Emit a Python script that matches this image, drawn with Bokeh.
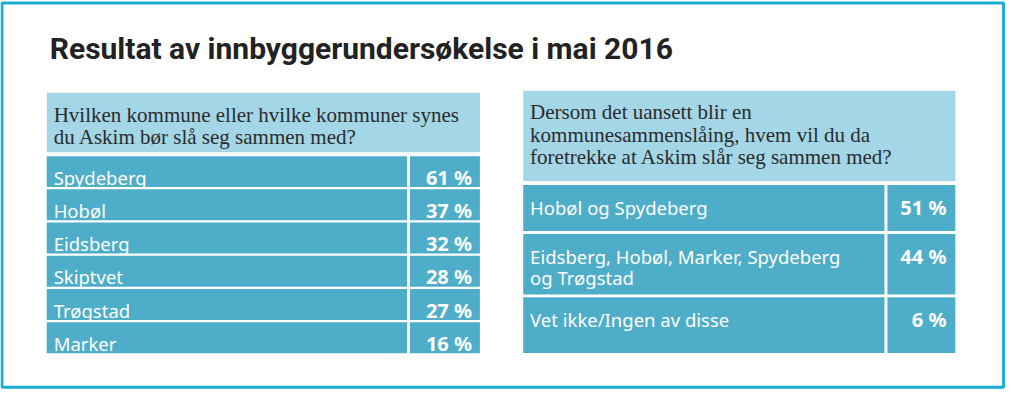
from bokeh.plotting import figure
from bokeh.models import Range1d, ColumnDataSource
from bokeh.core.properties import value
from bokeh.embed import file_html
from bokeh.resources import INLINE

# ---- data ----
title = "Resultat av innbyggerundersøkelse i mai 2016"
left_question = ["Hvilken kommune eller hvilke kommuner synes",
                 "du Askim bør slå seg sammen med?"]
left_labels = ["Spydeberg", "Hobøl", "Eidsberg", "Skiptvet", "Trøgstad", "Marker"]
left_values = [61, 37, 32, 28, 27, 16]

right_question = ["Dersom det uansett blir en",
                  "kommunesammenslåing, hvem vil du da",
                  "foretrekke at Askim slår seg sammen med?"]
right_labels = ["Hobøl og Spydeberg",
                "Eidsberg, Hobøl, Marker, Spydeberg\nog Trøgstad",
                "Vet ikke/Ingen av disse"]
right_values = [51, 44, 6]

# ---- style ----
BORDER = "#1cadd2"
HEADER = "#a3d6e7"
ROW = "#4eadc8"
LABEL_FONT = value("Noto Sans")
Q_FONT = value("Liberation Serif")

W, H = 1008, 391
p = figure(width=W, height=H, output_backend="svg", toolbar_location=None,
           x_range=Range1d(0, 1024), y_range=Range1d(407, 0),
           min_border=0)
p.axis.visible = False
p.grid.visible = False
p.outline_line_color = None
p.background_fill_color = "white"

# frame
p.quad(left=[1.5], right=[1019], top=[2.5], bottom=[402.5],
       fill_color=None, line_color=BORDER, line_width=3)

# title
p.text(x=[50], y=[50], text=[title], text_font=value("Roboto"),
       text_font_style="bold", text_font_size="30px", text_color="#222222",
       text_baseline="alphabetic")


def draw_table(x0, x_split, x1, head_top, head_bot, row_tops, row_heights,
               labels, values, qlines, q_base0, q_step, label_off, line_step,
               label_x, value_x):
    # header
    p.quad(left=[x0], right=[x1], top=[head_top], bottom=[head_bot],
           fill_color=HEADER, line_color=None)
    for i, ln in enumerate(qlines):
        p.text(x=[label_x], y=[q_base0 + i * q_step], text=[ln], text_font=Q_FONT,
               text_font_size="21px", text_color="#2b2b2b", text_baseline="alphabetic")
    tops = list(row_tops)
    bots = [t + h for t, h in zip(row_tops, row_heights)]
    src = ColumnDataSource(dict(top=tops, bot=bots,
                                l0=[x0] * len(tops), l1=[x_split - 1.5] * len(tops),
                                r0=[x_split + 1.5] * len(tops), r1=[x1] * len(tops)))
    p.quad(left="l0", right="l1", top="top", bottom="bot", source=src,
           fill_color=ROW, line_color=None)
    p.quad(left="r0", right="r1", top="top", bottom="bot", source=src,
           fill_color=ROW, line_color=None)
    xs, ys, ts = [], [], []
    for t, lab in zip(tops, labels):
        for j, ln in enumerate(lab.split("\n")):
            xs.append(label_x)
            ys.append(t + label_off + j * line_step)
            ts.append(ln)
    p.text(x=xs, y=ys, text=ts, text_font=LABEL_FONT, text_font_size="18.5px",
           text_color="white", text_baseline="alphabetic")
    p.text(x=[value_x] * len(values), y=[t + label_off for t in tops],
           text=[f"{v} %" for v in values], text_font=LABEL_FONT,
           text_font_style="bold", text_font_size="20px", text_color="white",
           text_align="right", text_baseline="alphabetic")


left_tops = [162 + i * 34.6 for i in range(len(left_labels))]
draw_table(47, 414.5, 487, 96, 158, left_tops, [32.2] * len(left_labels),
           left_labels, left_values, left_question, 119, 23, 22, 22, 54, 479)

right_tops = [192, 243, 309]
right_heights = [48, 63, 58]
draw_table(531, 899.5, 970, 94, 188, right_tops, right_heights,
           right_labels, right_values, right_question, 116, 23.5, 23, 22, 538, 961)

open("out.html", "w").write(file_html(p, INLINE))
